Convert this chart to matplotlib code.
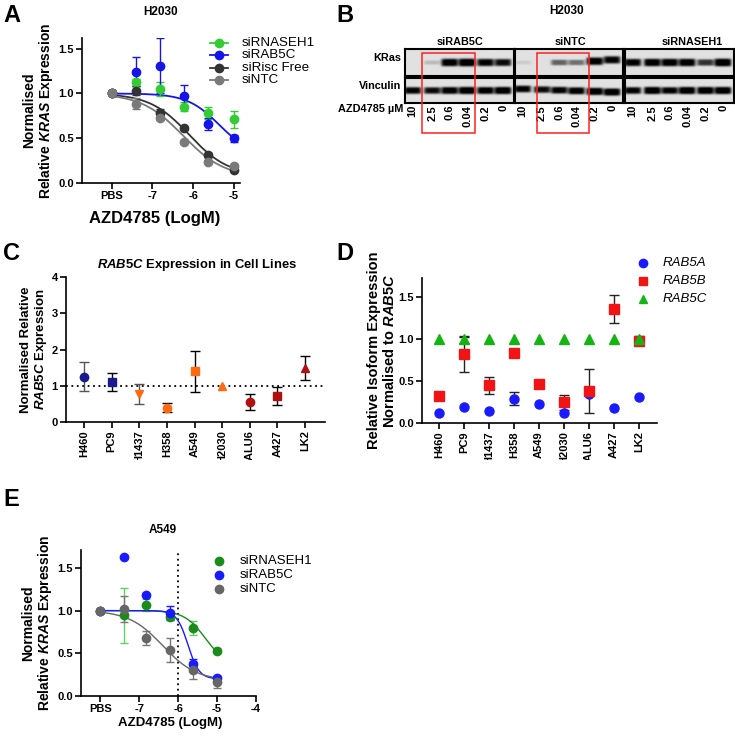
import numpy as np
import matplotlib
matplotlib.use('Agg')
import matplotlib.pyplot as plt
from matplotlib.patches import Rectangle
from matplotlib.lines import Line2D
from matplotlib.transforms import Bbox, TransformedBbox, blended_transform_factory

plt.rcParams['font.family'] = ['Liberation Sans', 'DejaVu Sans']
plt.rcParams['font.weight'] = 'bold'
plt.rcParams['axes.labelweight'] = 'bold'
plt.rcParams['mathtext.fontset'] = 'custom'
plt.rcParams['mathtext.it'] = 'Liberation Sans:italic:bold'
plt.rcParams['mathtext.rm'] = 'Liberation Sans:bold'
plt.rcParams['mathtext.bf'] = 'Liberation Sans:bold'

# ---------------- data ----------------
log_dose = [-8.0, -7.4, -6.82, -6.22, -5.63, -5.0]   # PBS plotted at -8
A_xticks = [-8, -7, -6, -5]
A_xticklabels = ['PBS', '-7', '-6', '-5']
E_xticks = [-8, -7, -6, -5, -4]
E_xticklabels = ['PBS', '-7', '-6', '-5', '-4']

A_names = ['siRNASEH1', 'siRAB5C', 'siRisc Free', 'siNTC']
A_rnaseh1 = [1.0, 1.125, 1.05, 0.85, 0.78, 0.71]
A_rnaseh1_err = [0, 0.04, 0.08, 0.05, 0.07, 0.09]
A_rab5c = [1.0, 1.245, 1.31, 0.97, 0.66, 0.50]
A_rab5c_err = [0, 0.16, 0.31, 0.12, 0.07, 0.04]
A_risc = [1.0, 1.03, 0.78, 0.61, 0.31, 0.15]
A_risc_err = [0, 0.05, 0.05, 0.02, 0.02, 0.02]
A_ntc = [1.0, 0.885, 0.73, 0.455, 0.24, 0.19]
A_ntc_err = [0, 0.06, 0.03, 0.02, 0.02, 0.02]
# 4PL fit parameters: top, bottom, logIC50, hill (None = no fit drawn)
A_fit_rab5c = [1.0, 0.30, -5.36, 1.1]
A_fit_risc = [1.0, 0.08, -6.10, 0.9]
A_fit_ntc = [1.0, 0.06, -6.25, 0.85]

E_names = ['siRNASEH1', 'siRAB5C', 'siNTC']
E_rnaseh1 = [1.0, 0.945, 1.07, 0.93, 0.80, 0.53]
E_rnaseh1_err = [0, 0.32, 0.07, 0.03, 0.08, 0.03]
E_rab5c = [1.0, 1.63, 1.18, 0.97, 0.38, 0.21]
E_rab5c_err = [0, 0, 0, 0.08, 0.05, 0.02]
E_ntc = [1.0, 1.02, 0.68, 0.54, 0.30, 0.165]
E_ntc_err = [0, 0.15, 0.08, 0.14, 0.10, 0.07]
E_fit_rnaseh1 = [1.0, 0.35, -5.30, 1.6]
E_fit_rab5c = [1.0, 0.20, -5.75, 3.0]
E_fit_ntc = [1.0, 0.18, -6.40, 1.0]

cell_lines = ['H460', 'PC9', 'H1437', 'H358', 'A549', 'H2030', 'CALU6', 'A427', 'LK2']
C_values = [1.25, 1.10, 0.78, 0.40, 1.40, 1.00, 0.56, 0.72, 1.50]
C_err = [0.40, 0.25, 0.28, 0.12, 0.57, 0.0, 0.22, 0.25, 0.33]
C_markers = ['o', 's', 'v', 'o', 's', '^', 'o', 's', '^']
C_colors = ['#1a1a8c', '#1a1a8c', '#ff6a10', '#ff6a10', '#ff6a10', '#ff6a10',
            '#b01010', '#b01010', '#b01010']

D_names = ['RAB5A', 'RAB5B', 'RAB5C']
D_rab5a = [0.12, 0.19, 0.14, 0.29, 0.23, 0.12, 0.35, 0.18, 0.31]
D_rab5a_err = [0, 0, 0, 0.08, 0, 0, 0, 0, 0]
D_rab5b = [0.32, 0.82, 0.45, 0.84, 0.46, 0.25, 0.38, 1.36, 0.98]
D_rab5b_err = [0, 0.21, 0.10, 0, 0, 0.09, 0.26, 0.165, 0.05]
D_rab5c = [1.0] * 9
D_rab5c_err = [0, 0.04, 0, 0, 0, 0, 0, 0, 0.04]

# Western blot (panel B)
blot_groups = ['siRAB5C', 'siNTC', 'siRNASEH1']
blot_rows = ['KRas', 'Vinculin']
lane_labels = ['10', '2.5', '0.6', '0.04', '0.2', '0']
kras_bands = [[0.0, 0.15, 0.95, 1.0, 0.9, 0.85],
              [0.08, 0.0, 0.5, 0.45, 0.95, 0.9],
              [0.9, 0.95, 0.95, 0.95, 0.7, 1.0]]
vinc_bands = [[0.9, 0.85, 0.95, 1.0, 0.95, 1.0],
              [0.9, 0.85, 0.9, 0.95, 1.0, 1.0],
              [0.9, 1.0, 0.9, 1.0, 1.0, 1.0]]

# ---------------- helpers ----------------
W, H = 735, 736
fig = plt.figure(figsize=(7.35, 7.36), dpi=100)
TICK_FS = 8


def ax_px(l, t, r, b):
    return fig.add_axes([l / W, 1 - b / H, (r - l) / W, (b - t) / H])


def fx(x):
    return x / W


def fy(y):
    return 1 - y / H


def style(ax, fs=TICK_FS):
    for s in ['top', 'right']:
        ax.spines[s].set_visible(False)
    for s in ['left', 'bottom']:
        ax.spines[s].set_linewidth(1.2)
    ax.tick_params(width=1.2, length=4, labelsize=fs, pad=2)
    for t in ax.get_xticklabels() + ax.get_yticklabels():
        t.set_fontweight('bold')


def fourpl(x, p):
    top, bot, c, h = p
    return bot + (top - bot) / (1 + 10 ** ((x - c) * h))


def letter(x, y, s):
    fig.text(fx(x), fy(y), s, fontsize=17, fontweight='bold', va='center', ha='left')


def manual_legend(items, mx, tx, y0, dy, fs, line=False, style_='normal'):
    for i, (name, col, mk) in enumerate(items):
        y = fy(y0 + i * dy)
        if line:
            fig.add_artist(Line2D([fx(mx - 9), fx(mx + 9)], [y, y], color=col, lw=1.3,
                                  transform=fig.transFigure))
        fig.add_artist(Line2D([fx(mx)], [y], marker=mk, color=col, ms=6, ls='none',
                              transform=fig.transFigure))
        fig.text(fx(tx), y, name, fontsize=fs, fontweight='normal', style=style_,
                 ha='left', va='center')


# ---------------- Panel A ----------------
axA = ax_px(82, 38, 240, 183)
xs = np.linspace(-8, -5, 200)
A_cols = ['#33cc33', '#1515e8', '#333333', '#7a7a7a']
A_data = [(A_rnaseh1, A_rnaseh1_err, None), (A_rab5c, A_rab5c_err, A_fit_rab5c),
          (A_risc, A_risc_err, A_fit_risc), (A_ntc, A_ntc_err, A_fit_ntc)]
for (vals, err, fit), col, name in zip(A_data, A_cols, A_names):
    axA.errorbar(log_dose, vals, yerr=err, fmt='o', color=col, ms=6, capsize=3,
                 elinewidth=1, capthick=1, zorder=3)
    if fit is not None:
        axA.plot(xs, fourpl(xs, fit), color=col, lw=1.3, zorder=2)
axA.set_xlim(-8.73, -4.85)
axA.set_ylim(0, 1.62)
axA.set_xticks(A_xticks)
axA.set_xticklabels(A_xticklabels)
axA.set_yticks([0, 0.5, 1.0, 1.5])
axA.set_yticklabels(['0.0', '0.5', '1.0', '1.5'])
style(axA)
fig.text(fx(161), fy(12), 'H2030', fontsize=8.5, fontweight='bold', ha='center', va='center')
fig.text(fx(155), fy(218), 'AZD4785 (LogM)', fontsize=12, fontweight='bold', ha='center', va='center')
axA.set_ylabel('Normalised\nRelative $\\mathit{KRAS}$ Expression', fontsize=10,
               labelpad=2, linespacing=1.05)
manual_legend([(n, c, 'o') for n, c in zip(A_names, A_cols)], 219, 242, 43, 12.3, 9.6,
              line=True)

# ---------------- Panel B (blot) ----------------
fig.text(fx(567), fy(11), 'H2030', fontsize=8.5, fontweight='bold', ha='center', va='center')
box_x = [(405, 514), (515, 623), (625, 734)]
row_y = [(49, 76), (78, 103)]
lane_frac = [0.07, 0.25, 0.41, 0.57, 0.74, 0.90]
group_centers = [460, 570, 692]
for g, (x0, x1) in enumerate(box_x):
    fig.text(fx(group_centers[g]), fy(42), blot_groups[g], fontsize=7.8,
             fontweight='bold', ha='center', va='center')
    for r, (y0, y1) in enumerate(row_y):
        ax = ax_px(x0, y0, x1, y1)
        bands = kras_bands[g] if r == 0 else vinc_bands[g]
        nx, ny = 220, 50
        xx = np.linspace(0, 1, nx)
        yy = np.linspace(0, 1, ny)
        img = np.full((ny, nx), 0.12)
        for i, inten in enumerate(bands):
            yc = 0.5 + (0.025 * (i - 2.5) if (g == 1 and r == 1) else 0.0)
            if g == 1 and r == 0 and i >= 4:
                yc = 0.45 - 0.05 * (i - 4)
            thick = 0.15 * (0.45 + 0.55 * inten)
            prof_y = np.exp(-((yy - yc) / thick) ** 4)
            prof_x = np.exp(-((xx - lane_frac[i]) / 0.078) ** 6)
            img += inten * 1.0 * np.outer(prof_y, prof_x)
        ax.imshow(np.clip(img, 0, 1), cmap='gray_r', vmin=0, vmax=1, aspect='auto',
                  extent=(0, 1, 0, 1), interpolation='bilinear')
        ax.set_xticks([])
        ax.set_yticks([])
        for s in ax.spines.values():
            s.set_linewidth(1.5)
        if r == 1:
            trans = blended_transform_factory(ax.transAxes, fig.transFigure)
            for lf, lab in zip(lane_frac, lane_labels):
                ax.text(lf, fy(105), lab, rotation=90, transform=trans, ha='center',
                        va='top', fontsize=8, fontweight='bold')
fig.text(fx(401), fy(58), blot_rows[0], fontsize=7.8, fontweight='bold', ha='right', va='center')
fig.text(fx(401), fy(86), blot_rows[1], fontsize=7.8, fontweight='bold', ha='right', va='center')
fig.text(fx(403), fy(109), 'AZD4785 µM', fontsize=7.8, fontweight='bold', ha='right', va='center')
for (rx0, rx1) in [(422, 475), (537, 589)]:
    fig.patches.append(Rectangle((fx(rx0), fy(133)), (rx1 - rx0) / W, 80 / H,
                                 transform=fig.transFigure, fill=False, ec='#ff2020', lw=1.1))

clip_bbox = TransformedBbox(Bbox.from_extents(0, 1 - 460 / H, 1, 1), fig.transFigure)

# ---------------- Panel C ----------------
axC = ax_px(66, 277, 325, 422)
xc = np.arange(len(cell_lines))
axC.axhline(1.0, color='black', ls=(0, (1, 2)), lw=1.3, zorder=1)
for i in range(len(cell_lines)):
    ecol = '#555555' if i in (0, 2) else 'black'
    if C_err[i] > 0:
        axC.errorbar(xc[i], C_values[i], yerr=C_err[i], fmt='none', ecolor=ecol,
                     elinewidth=1, capsize=3.5, capthick=1, zorder=2)
    axC.plot(xc[i], C_values[i], marker=C_markers[i], color=C_colors[i], ms=6,
             ls='none', zorder=3)
axC.set_xlim(-0.65, 8.72)
axC.set_ylim(0, 4)
axC.set_yticks([0, 1, 2, 3, 4])
axC.set_xticks(xc)
axC.set_xticklabels(cell_lines, rotation=90)
style(axC)
fig.text(fx(197), fy(265), '$\\mathit{RAB5C}$ Expression in Cell Lines', fontsize=9.4,
         fontweight='bold', ha='center', va='center')
axC.set_ylabel('Normalised Relative\n$\\mathit{RAB5C}$ Expression', fontsize=9.5,
               labelpad=2, linespacing=1.05)

# ---------------- Panel D ----------------
axD = ax_px(422, 278, 657, 423)
xd = np.arange(len(cell_lines))
D_cols = ['#1a1aff', '#f01414', '#14b414']
D_marks = ['o', 's', '^']
D_sets = [(D_rab5a, D_rab5a_err), (D_rab5b, D_rab5b_err), (D_rab5c, D_rab5c_err)]
for (vals, err), col, mk in zip(D_sets, D_cols, D_marks):
    for i in range(len(vals)):
        if err[i] > 0:
            axD.errorbar(xd[i], vals[i], yerr=err[i], fmt='none', ecolor='#222222',
                         elinewidth=1, capsize=3.5, capthick=1, zorder=2)
    axD.plot(xd, vals, marker=mk, color=col, ms=6.5, ls='none', zorder=3)
axD.set_xlim(-0.68, 8.72)
axD.set_ylim(0, 1.73)
axD.set_yticks([0, 0.5, 1.0, 1.5])
axD.set_yticklabels(['0.0', '0.5', '1.0', '1.5'])
axD.set_xticks(xd)
axD.set_xticklabels(cell_lines, rotation=90)
style(axD)
axD.set_ylabel('Relative Isoform Expression\nNormalised to $\\mathit{RAB5C}$', fontsize=10.5,
               labelpad=1, linespacing=1.05)
manual_legend([(n, c, m) for n, c, m in zip(D_names, D_cols, D_marks)], 643, 663, 263, 18,
              9.5, style_='italic')

for ax in (axC, axD):
    for t in ax.get_xticklabels():
        t.set_clip_on(True)
        t.set_clip_box(clip_bbox)

# ---------------- Panel E ----------------
axE = ax_px(81, 550, 256, 696)
E_cols = ['#1a8c1a', '#1a1aff', '#666666']
E_ecols = ['#5fd35f', '#1a1aff', '#777777']
E_data = [(E_rnaseh1, E_rnaseh1_err, E_fit_rnaseh1), (E_rab5c, E_rab5c_err, E_fit_rab5c),
          (E_ntc, E_ntc_err, E_fit_ntc)]
xs = np.linspace(-8, -5, 300)
for (vals, err, fit), col, ecol in zip(E_data, E_cols, E_ecols):
    axE.errorbar(log_dose, vals, yerr=err, fmt='none', ecolor=ecol, elinewidth=1,
                 capsize=3, capthick=1, zorder=2)
    axE.plot(log_dose, vals, 'o', color=col, ms=6, zorder=3)
    axE.plot(xs, fourpl(xs, fit), color=col, lw=1.0, zorder=2)
axE.axvline(-6, color='black', ls=(0, (1, 2)), lw=1.3, zorder=1)
axE.set_xlim(-8.5, -4)
axE.set_ylim(0, 1.71)
axE.set_xticks(E_xticks)
axE.set_xticklabels(E_xticklabels)
axE.set_yticks([0, 0.5, 1.0, 1.5])
axE.set_yticklabels(['0.0', '0.5', '1.0', '1.5'])
style(axE)
fig.text(fx(163), fy(530), 'A549', fontsize=8.5, fontweight='bold', ha='center', va='center')
fig.text(fx(170), fy(723), 'AZD4785 (LogM)', fontsize=9.5, fontweight='bold', ha='center', va='center')
axE.set_ylabel('Normalised\nRelative $\\mathit{KRAS}$ Expression', fontsize=10,
               labelpad=2, linespacing=1.05)
manual_legend([(n, c, 'o') for n, c in zip(E_names, E_cols)], 219, 240, 561, 14, 9.5)

# panel letters
letter(3, 15, 'A')
letter(336, 15, 'B')
letter(3, 253, 'C')
letter(336, 253, 'D')
letter(3, 500, 'E')

fig.savefig('out.png', dpi=100)
